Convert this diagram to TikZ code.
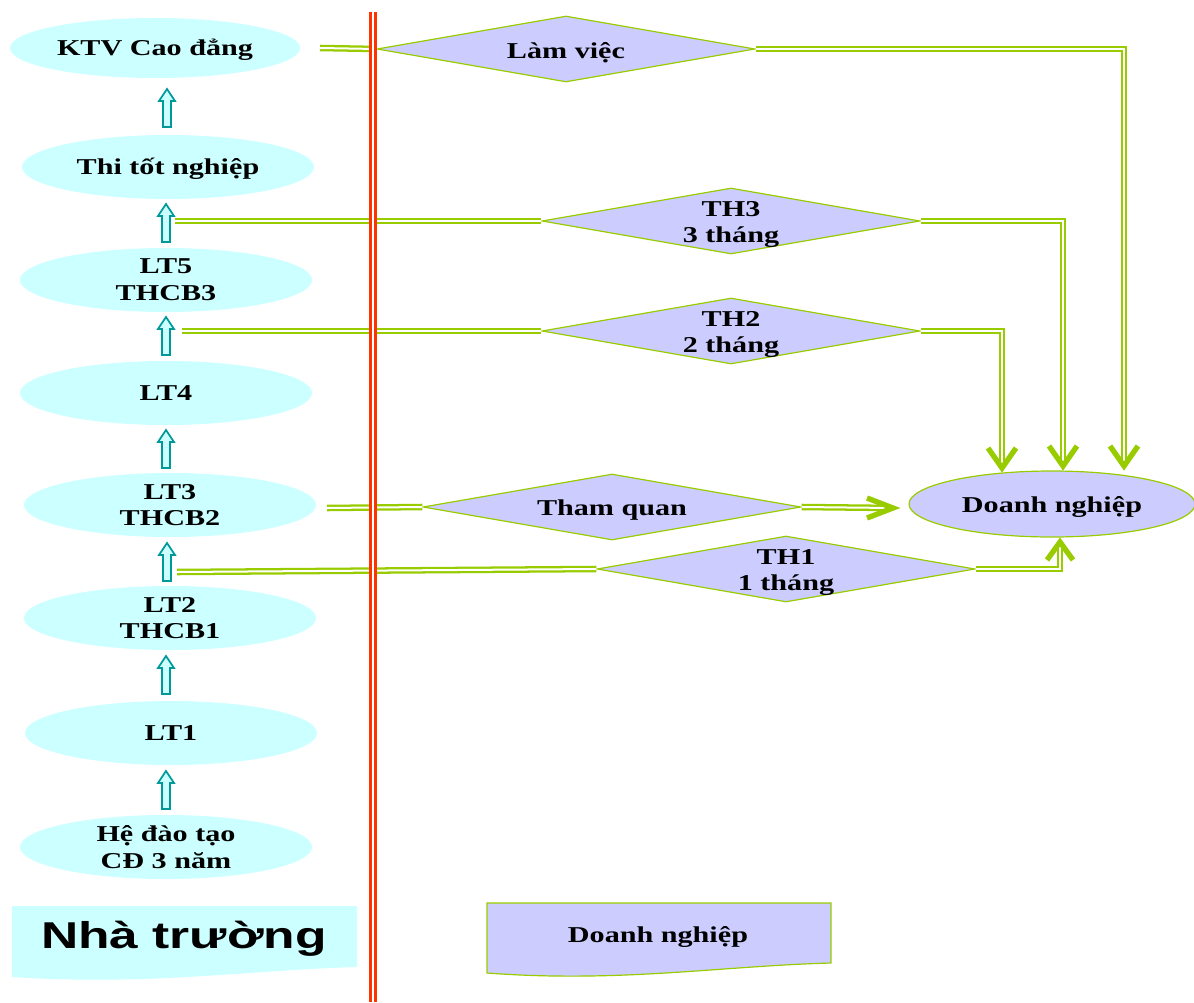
\documentclass[tikz,border=0pt]{standalone}
\usepackage{fontspec}
\setmainfont{Liberation Serif}[FakeStretch=1.33]
\newfontfamily\bigsans{Liberation Sans}[FakeStretch=1.38]
\usetikzlibrary{shapes.geometric}
\definecolor{schoolfill}{HTML}{CCFFFF}
\definecolor{firmfill}{HTML}{CCCCFF}
\definecolor{linkgreen}{HTML}{99CC00}
\definecolor{wallred}{HTML}{FF3300}
\definecolor{stepteal}{HTML}{009999}
\tikzset{
  school/.style={ellipse, fill=schoolfill, inner sep=0pt, minimum width=219pt,
    minimum height=48pt, align=center, font=\fontsize{17}{20}\selectfont\bfseries},
  schooltext/.style={yshift=-1.2pt},
  firm/.style={ellipse, fill=firmfill, draw=linkgreen, line width=0.9pt, inner sep=0pt,
    minimum width=214.5pt, minimum height=49.5pt},
  stage/.style={diamond, fill=firmfill, draw=linkgreen, line width=0.9pt, inner sep=0pt,
    minimum width=283.5pt, minimum height=49.5pt},
  stagetext/.style={align=center, yshift=-2.6pt, font=\fontsize{17}{20}\selectfont\bfseries},
  link/.style={draw=linkgreen, double=white, line width=1.7pt, double distance=1.5pt},
  tip/.style={draw=linkgreen, line width=4pt, line join=miter, line cap=butt},
  wall/.style={draw=wallred, double=white, line width=2.3pt, double distance=1pt},
  uparrow/.pic={\draw[stepteal, fill=schoolfill, line width=1.3pt, line join=miter]
    (-4,0) -- (-4,-26) -- (-8,-26) -- (0,-38) -- (8,-26) -- (4,-26) -- (4,0) -- cycle;}
}
\begin{document}
\begin{tikzpicture}[x=0.75pt, y=-0.75pt]
\useasboundingbox (0,0) rectangle (1194,1002);

% school column
\node[school, minimum height=45pt, minimum width=217.5pt, label={[school, fill=none, minimum size=0pt, schooltext]center:KTV Cao đẳng}] (ktv) at (155,48) {};
\node[school, label={[school, fill=none, minimum size=0pt, schooltext]center:Thi tốt nghiệp}] (thi) at (168,167) {};
\node[school] (lt5) at (166,280) {LT5\\THCB3};
\node[school] (lt4) at (166,393) {LT4};
\node[school] (lt3) at (170,505) {LT3\\THCB2};
\node[school] (lt2) at (170,618) {LT2\\THCB1};
\node[school] (lt1) at (171,733) {LT1};
\node[school] (he) at (166,847) {Hệ đào tạo\\CĐ 3 năm};

% steps upward
\pic at (167,127) {uparrow};
\pic at (166,242) {uparrow};
\pic at (166,355) {uparrow};
\pic at (166,468) {uparrow};
\pic at (167,581) {uparrow};
\pic at (166,694) {uparrow};
\pic at (166,809) {uparrow};

% enterprise stages
\node[stage, label={[stagetext]center:Làm việc}] (lv) at (566,49) {};
\node[stage, label={[stagetext]center:TH3\\3 tháng}] (th3) at (731,221) {};
\node[stage, label={[stagetext]center:TH2\\2 tháng}] (th2) at (731,331) {};
\node[stage, label={[stagetext]center:Tham quan}] (tq) at (612,507) {};
\node[stage, label={[stagetext]center:TH1\\1 tháng}] (th1) at (786,569) {};
\node[firm, label={[stagetext]center:Doanh nghiệp}] (dn) at (1052,504) {};

% link start and arrow tip points
\coordinate (sK) at (320,48);
\coordinate (s3) at (175,221);
\coordinate (s2) at (182,331);
\coordinate (sQ) at (327,508);
\coordinate (s1) at (177,572);
\coordinate (tA) at (1002,468);
\coordinate (tB) at (1063,466);
\coordinate (tC) at (1124,466);
\coordinate (tD) at (893,508);
\coordinate (tE) at (1060,542);

% links
\draw[link] (sK) -- (lv.west);
\draw[link, shorten >=4pt] (lv.east) -| (tC);
\draw[link] (s3) -- (th3.west);
\draw[link, shorten >=4pt] (th3.east) -| (tB);
\draw[link] (s2) -- (th2.west);
\draw[link, shorten >=4pt] (th2.east) -| (tA);
\draw[link] (sQ) -- (tq.west);
\draw[link, shorten >=4pt] (tq.east) -- (tD);
\draw[link] (s1) -- (th1.west);
\draw[link, shorten >=4pt] (th1.east) -| (tE);

% arrow tips
\draw[tip] (tA) ++(-14,-20) -- (tA) -- ++(14,-20);
\draw[tip] (tB) ++(-14,-20) -- (tB) -- ++(14,-20);
\draw[tip] (tC) ++(-14,-20) -- (tC) -- ++(14,-20);
\draw[tip] (tD) ++(-26,-10) -- (tD) -- ++(-26,10);
\draw[tip] (tE) ++(-13,18) -- (tE) -- ++(13,18);

% dividing wall
\coordinate (wTop) at (373,12);
\coordinate (wBot) at (373,1002);
\draw[wall] (wTop) -- (wBot);

% legend
\fill[schoolfill] (12,906) -- (357,906) -- (357,967)
  .. controls (250,970) and (150,986) .. (12,977) -- cycle;
\node[font=\bigsans\fontsize{28}{32}\selectfont\bfseries] (nt) at (184,939) {Nhà trường};
\draw[fill=firmfill, draw=linkgreen, line width=0.9pt] (487,903) -- (831,903) -- (831,963)
  .. controls (720,966) and (620,983) .. (487,973) -- cycle;
\node[font=\fontsize{17}{20}\selectfont\bfseries] (dnl) at (658,937) {Doanh nghiệp};
\end{tikzpicture}
\end{document}
